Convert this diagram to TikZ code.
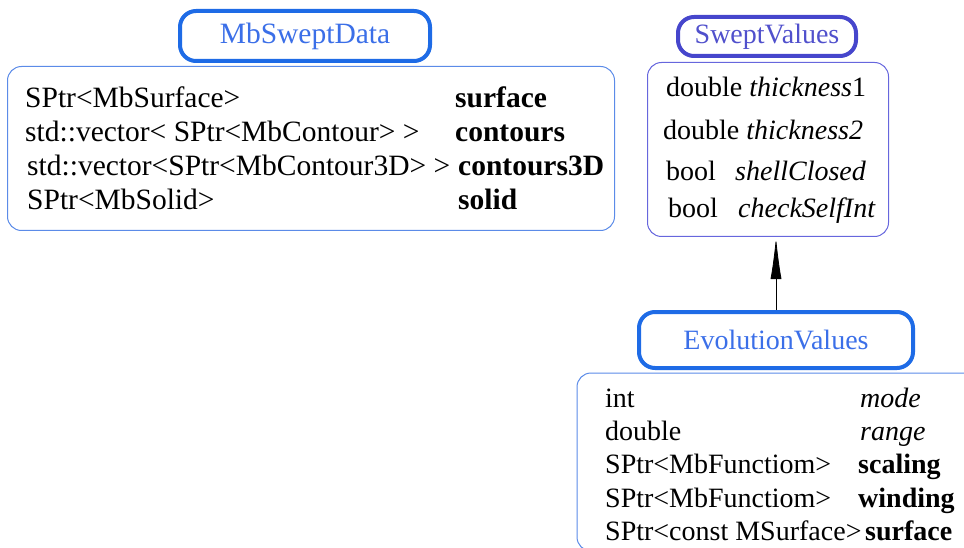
\documentclass[tikz,border=0pt]{standalone}
\usepackage{fontspec}
\setmainfont{Liberation Serif}
\usetikzlibrary{arrows.meta}
\definecolor{tblue}{HTML}{1E6BE6}
\definecolor{ttext}{HTML}{3B6FE8}
\definecolor{sblue}{HTML}{4646CC}
\definecolor{stext}{HTML}{5050CC}
\definecolor{bodyblue}{HTML}{5B8BE8}
\definecolor{bodyviolet}{HTML}{6666DD}
\begin{document}
\begin{tikzpicture}[x=1pt,y=-1pt,
  titlebox/.style={draw=tblue, line width=4pt, rounded corners=16pt, text=ttext, inner sep=0pt, font=\fontsize{28}{34}\selectfont},
  bodybox/.style={draw=bodyblue, line width=1pt, rounded corners=14pt, inner sep=0pt},
  txt/.style={anchor=base west, inner sep=0pt, font=\fontsize{28}{34}\selectfont},
  bigtxt/.style={txt, font=\fontsize{29.5}{34}\selectfont}]
\useasboundingbox (0,0) rectangle (964,548);
\clip (0,0) rectangle (964,548);
% MbSweptData
\node[bodybox, minimum width=607pt, minimum height=164pt] (sdB) at (311,148.5) {};
\node[titlebox, fill=white, font=\fontsize{29.5}{34}\selectfont, minimum width=250pt, minimum height=50pt] (sdT) at (305,36) {MbSweptData};
\node[bigtxt] (sd1a) at (25,108) {SPtr<MbSurface>};
\node[bigtxt] (sd1b) at (455,108) {\textbf{surface}};
\node[bigtxt] (sd2a) at (25,142) {std::vector< SPtr<MbContour> >};
\node[bigtxt] (sd2b) at (455,142) {\textbf{contours}};
\node[bigtxt] (sd3a) at (27,176) {std::vector<SPtr<MbContour3D> >};
\node[bigtxt] (sd3b) at (458,176) {\textbf{contours3D}};
\node[bigtxt] (sd4a) at (27,210) {SPtr<MbSolid>};
\node[bigtxt] (sd4b) at (458,210) {\textbf{solid}};
% SweptValues
\node[bodybox, draw=bodyviolet, minimum width=241pt, minimum height=174pt] (svB) at (768,149.5) {};
\node[titlebox, draw=sblue, text=stext, minimum width=178pt, minimum height=39pt] (svT) at (767,36.5) {SweptValues};
\node[txt] (sv1) at (666,97) {double \textit{thickness}1};
\node[txt] (sv2) at (663,140) {double \textit{thickness2}};
\node[txt] (sv3a) at (666,181) {bool};
\node[txt] (sv3b) at (735,181) {\textit{shellClosed}};
\node[txt] (sv4a) at (668,218) {bool};
\node[txt] (sv4b) at (738,218) {\textit{checkSelfInt}};
% EvolutionValues
\node[bodybox, minimum width=423pt, minimum height=178pt] (evB) at (788.5,462) {};
\node[titlebox, minimum width=274pt, minimum height=56pt] (evT) at (776,340) {EvolutionValues};
\node[txt] (ev1a) at (605,407) {int};
\node[txt] (ev1b) at (860,407) {\textit{mode}};
\node[txt] (ev2a) at (605,440) {double};
\node[txt] (ev2b) at (860,440) {\textit{range}};
\node[txt] (ev3a) at (605,473) {SPtr<MbFunctiom>};
\node[txt] (ev3b) at (858,473) {\textbf{scaling}};
\node[txt] (ev4a) at (605,507) {SPtr<MbFunctiom>};
\node[txt] (ev4b) at (858,507) {\textbf{winding}};
\node[txt] (ev5a) at (605,540) {SPtr<const MSurface>};
\node[txt] (ev5b) at (865,540) {\textbf{surface}};
% arrow
\draw[line width=0.8pt, -{Latex[length=42pt,width=11pt]}] (evT.north) -- (evT.north |- svB.south);
\end{tikzpicture}
\end{document}
